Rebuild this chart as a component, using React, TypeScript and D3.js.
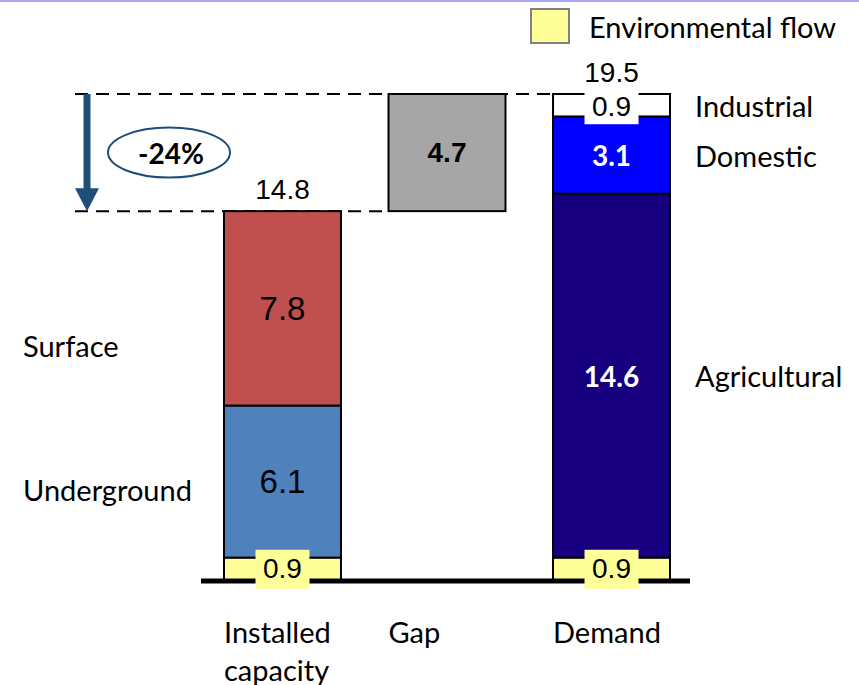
import React from "react";
import * as d3 from "d3";

const categories = ["Installed capacity", "Gap", "Demand"];
const installedNames = ["Environmental flow", "Underground", "Surface"];
const installedValues = [0.9, 6.1, 7.8];
const gapValue = 4.7;
const demandNames = ["Environmental flow", "Agricultural", "Domestic", "Industrial"];
const demandValues = [0.9, 14.6, 3.1, 0.9];
const leftLabels = ["Surface", "Underground"];
const rightLabels = ["Industrial", "Domestic", "Agricultural"];
const legendLabel = "Environmental flow";

const colors: Record<string, string> = {
  "Environmental flow": "#FFFF99",
  Underground: "#4F81BD",
  Surface: "#C0504D",
  Gap: "#A6A6A6",
  Agricultural: "#170080",
  Domestic: "#0000FF",
  Industrial: "#FFFFFF",
};

const W = 859;
const H = 685;
const LBL = "Lato, 'Open Sans', sans-serif";
const NUM = "'Liberation Sans', Arial, sans-serif";
const LS = 29;

function stack(names: string[], values: number[], base = 0) {
  let acc = base;
  return names.map((n, i) => {
    const s = { name: n, y0: acc, y1: acc + values[i], v: values[i] };
    acc += values[i];
    return s;
  });
}

export default function App() {
  const installed = stack(installedNames, installedValues);
  const installedTotal = d3.sum(installedValues);
  const demandTotal = d3.sum(demandValues);
  const gap = stack(["Gap"], [gapValue], installedTotal);
  const demand = stack(demandNames, demandValues);
  const pct = Math.round(((installedTotal - demandTotal) / demandTotal) * 100);

  const x = d3
    .scaleBand<string>()
    .domain(categories)
    .range([224, 670])
    .paddingInner(0.289)
    .paddingOuter(0);
  const y = d3.scaleLinear().domain([0, demandTotal]).range([580, 94]);
  const bw = x.bandwidth();
  const cx = (c: string) => (x(c) as number) + bw / 2;

  const fmt = (v: number) => v.toFixed(1);
  const yTop = y(demandTotal);
  const yMid = y(installedTotal);

  const columns = [
    { cat: categories[0], segs: installed },
    { cat: categories[1], segs: gap },
    { cat: categories[2], segs: demand },
  ];

  return (
    <svg
      width={W}
      height={H}
      style={{ position: "absolute", left: 0, top: 0, background: "#fff" }}
    >
      <rect x={0} y={0} width={W} height={2} fill="#A8A8F4" />
      {/* dashed reference lines */}
      <line x1={75} x2={x(categories[2]) as number} y1={yTop} y2={yTop} stroke="#000" strokeWidth={2} strokeDasharray="13 8" />
      <line x1={75} x2={x(categories[1]) as number} y1={yMid} y2={yMid} stroke="#000" strokeWidth={2} strokeDasharray="13 8" />

      {/* arrow */}
      <line x1={87} x2={87} y1={yTop} y2={yMid - 20} stroke="#1F4E79" strokeWidth={7} />
      <polygon
        points={`${75},${yMid - 23} ${99},${yMid - 23} ${87},${yMid}`}
        fill="#1F4E79"
      />
      <ellipse cx={169} cy={(yTop + yMid) / 2} rx={61} ry={25} fill="#fff" stroke="#1F4E79" strokeWidth={2} />
      <text x={171} y={(yTop + yMid) / 2} textAnchor="middle" dominantBaseline="central" fontFamily={LBL} fontWeight="bold" fontSize={28}>
        {`${pct}%`}
      </text>

      {/* bars */}
      {columns.map((col) =>
        col.segs.map((s) => (
          <rect
            key={col.cat + s.name}
            x={x(col.cat)}
            y={y(s.y1)}
            width={bw}
            height={y(s.y0) - y(s.y1)}
            fill={colors[s.name]}
            stroke="#000"
            strokeWidth={2}
          />
        ))
      )}

      {/* baseline */}
      <line x1={201} x2={690} y1={581} y2={581} stroke="#000" strokeWidth={5} />

      {/* segment values */}
      {installed.map((s) =>
        s.name === "Environmental flow" ? null : (
          <text key={"iv" + s.name} x={cx(categories[0])} y={y((s.y0 + s.y1) / 2)} textAnchor="middle" dominantBaseline="central" fontFamily={NUM} fontSize={33}>
            {fmt(s.v)}
          </text>
        )
      )}
      <text x={cx(categories[1])} y={y((gap[0].y0 + gap[0].y1) / 2)} textAnchor="middle" dominantBaseline="central" fontFamily={NUM} fontWeight="bold" fontSize={28}>
        {fmt(gap[0].v)}
      </text>
      {demand.map((s) =>
        s.name === "Agricultural" || s.name === "Domestic" ? (
          <text key={"dv" + s.name} x={cx(categories[2])} y={y((s.y0 + s.y1) / 2)} textAnchor="middle" dominantBaseline="central" fontFamily={LBL} fontWeight="bold" fontSize={28} fill="#fff">
            {fmt(s.v)}
          </text>
        ) : null
      )}

      {/* boxed small labels */}
      {[
        { c: categories[0], s: installed[0], bg: colors["Environmental flow"] },
        { c: categories[2], s: demand[0], bg: colors["Environmental flow"] },
        { c: categories[2], s: demand[3], bg: "#fff" },
      ].map((b, i) => {
        const my = y((b.s.y0 + b.s.y1) / 2);
        return (
          <g key={"bx" + i}>
            <rect x={cx(b.c) - 27} y={my - (i === 2 ? 14 : 19)} width={54} height={i === 2 ? 33 : 39} fill={b.bg} />
            <text x={cx(b.c)} y={my + (i === 2 ? 1 : 0)} textAnchor="middle" dominantBaseline="central" fontFamily={NUM} fontSize={28}>
              {fmt(b.s.v)}
            </text>
          </g>
        );
      })}

      {/* totals */}
      <text x={cx(categories[0])} y={yMid - 22} textAnchor="middle" dominantBaseline="central" fontFamily={NUM} fontSize={28}>
        {fmt(installedTotal)}
      </text>
      <text x={cx(categories[2])} y={yTop - 22} textAnchor="middle" dominantBaseline="central" fontFamily={NUM} fontSize={28}>
        {fmt(demandTotal)}
      </text>

      {/* side labels */}
      <text x={23} y={y(installed[2].y0 + installed[2].v * 0.31)} dominantBaseline="central" fontFamily={LBL} fontSize={LS}>
        {leftLabels[0]}
      </text>
      <text x={23} y={y(installed[1].y0 + installed[1].v * 0.45)} dominantBaseline="central" fontFamily={LBL} fontSize={LS}>
        {leftLabels[1]}
      </text>
      <text x={695} y={y((demand[3].y0 + demand[3].y1) / 2)} dominantBaseline="central" fontFamily={LBL} fontSize={LS}>
        {rightLabels[0]}
      </text>
      <text x={695} y={y((demand[2].y0 + demand[2].y1) / 2)} dominantBaseline="central" fontFamily={LBL} fontSize={LS}>
        {rightLabels[1]}
      </text>
      <text x={695} y={y((demand[1].y0 + demand[1].y1) / 2)} dominantBaseline="central" fontFamily={LBL} fontSize={LS}>
        {rightLabels[2]}
      </text>

      {/* category labels */}
      <text x={x(categories[0])} y={631} dominantBaseline="central" fontFamily={LBL} fontSize={LS}>
        <tspan x={x(categories[0])}>Installed</tspan>
        <tspan x={x(categories[0])} dy={38}>capacity</tspan>
      </text>
      <text x={x(categories[1])} y={631} dominantBaseline="central" fontFamily={LBL} fontSize={LS}>
        {categories[1]}
      </text>
      <text x={x(categories[2])} y={631} dominantBaseline="central" fontFamily={LBL} fontSize={LS}>
        {categories[2]}
      </text>

      {/* legend */}
      <rect x={531} y={9} width={38} height={34} fill={colors["Environmental flow"]} stroke="#808080" strokeWidth={2} />
      <text x={589} y={26} dominantBaseline="central" fontFamily={LBL} fontSize={LS}>
        {legendLabel}
      </text>
    </svg>
  );
}
